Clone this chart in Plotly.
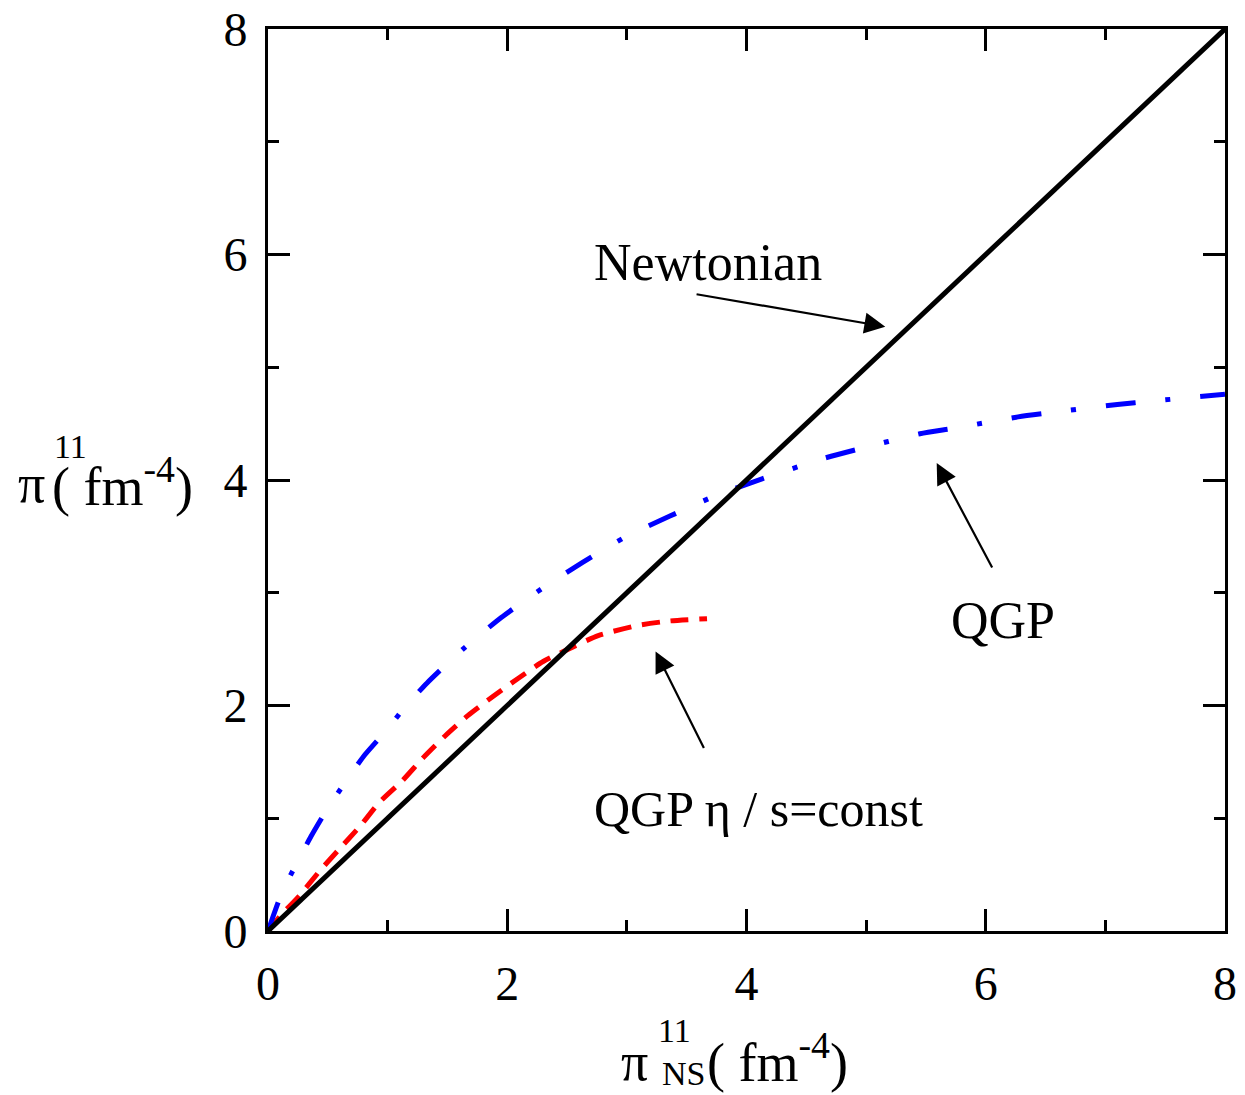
import plotly.graph_objects as go

# Data
newton_x = [0, 8]
newton_y = [0, 8]

qgp_x = [0, 0.12, 0.23, 0.36, 0.50, 0.64, 0.80, 0.99, 1.14, 1.33, 1.63, 1.95, 2.28, 2.63, 2.98, 3.36, 3.74, 4.13, 4.64, 4.92, 5.45, 5.74, 6.27, 6.56, 7.10, 7.39, 8.0]
qgp_y = [0, 0.35, 0.58, 0.84, 1.09, 1.31, 1.55, 1.78, 1.98, 2.20, 2.50, 2.78, 3.03, 3.27, 3.49, 3.68, 3.86, 4.01, 4.19, 4.27, 4.41, 4.46, 4.56, 4.60, 4.67, 4.70, 4.76]

qgp_const_x = [0, 0.10, 0.26, 0.43, 0.59, 0.77, 0.93, 1.12, 1.30, 1.48, 1.67, 1.88, 2.09, 2.30, 2.55, 2.76, 3.09, 3.36, 3.67]
qgp_const_y = [0, 0.13, 0.31, 0.53, 0.72, 0.93, 1.14, 1.33, 1.54, 1.73, 1.91, 2.08, 2.24, 2.39, 2.52, 2.62, 2.71, 2.75, 2.77]

major_ticks = [0, 2, 4, 6, 8]
minor_ticks = [1, 3, 5, 7]

SERIF = "Liberation Serif, Times New Roman, serif"

fig = go.Figure()
fig.add_trace(go.Scatter(x=qgp_const_x, y=qgp_const_y, mode="lines",
                         line=dict(color="#ff0000", width=5, dash="18px,11px", shape="spline", smoothing=0.6),
                         showlegend=False))
fig.add_trace(go.Scatter(x=qgp_x, y=qgp_y, mode="lines",
                         line=dict(color="#0000ff", width=5, dash="30px,30px,5px,30px", shape="spline", smoothing=0.6),
                         showlegend=False))
fig.add_trace(go.Scatter(x=newton_x, y=newton_y, mode="lines",
                         line=dict(color="black", width=5), showlegend=False))

axis_common = dict(range=[0, 8], showgrid=False, zeroline=False, showline=True,
                   linecolor="black", linewidth=3, mirror="allticks",
                   ticks="inside", ticklen=22, tickwidth=3, tickcolor="black",
                   tickvals=major_ticks, ticktext=[str(v) for v in major_ticks],
                   tickfont=dict(family=SERIF, size=48, color="black"),
                   automargin=False,
                   minor=dict(tickvals=minor_ticks, ticks="inside", ticklen=11, tickwidth=3, tickcolor="black"))

fig.update_layout(
    width=1245, height=1095,
    margin=dict(l=268, r=20, t=29, b=164),
    plot_bgcolor="white", paper_bgcolor="white",
    xaxis=dict(**axis_common, ticklabelstandoff=8),
    yaxis=dict(**axis_common, ticklabelstandoff=8),
)

annots = []
def txt(x, y, s, size=52, xref="x", yref="y", xanchor="center", yanchor="middle"):
    annots.append(dict(x=x, y=y, xref=xref, yref=yref, text=s, showarrow=False,
                       font=dict(family=SERIF, size=size, color="black"),
                       xanchor=xanchor, yanchor=yanchor))

def arrow(x0, y0, x1, y1):
    annots.append(dict(x=x1, y=y1, ax=x0, ay=y0, xref="x", yref="y", axref="x", ayref="y",
                       text="", showarrow=True, arrowhead=2, arrowsize=1.9, arrowwidth=2.2,
                       arrowcolor="black"))

txt(3.68, 5.93, "Newtonian", size=52)
arrow(3.57, 5.65, 5.16, 5.36)
txt(6.14, 2.75, "QGP", size=52)
arrow(6.06, 3.21, 5.59, 4.15)
txt(4.1, 1.08, "QGP η / s=const", size=50)
arrow(3.65, 1.61, 3.24, 2.48)

# axis titles placed from pixel positions relative to the plot area
pl, pr, pt, pb = 268, 1225, 29, 931
def ppx(p):
    return (p - pl) / (pr - pl)
def ppy(p):
    return (pb - p) / (pb - pt)

# x title
txt(ppx(634), ppy(1062), "π", size=54, xref="paper", yref="paper")
txt(ppx(674), ppy(1030), "11", size=34, xref="paper", yref="paper")
txt(ppx(683), ppy(1073), "NS", size=34, xref="paper", yref="paper")
txt(ppx(705), ppy(1058), "( fm<sup>-4</sup>)", size=54, xref="paper", yref="paper", xanchor="left")
# y title
txt(ppx(31), ppy(484), "π", size=54, xref="paper", yref="paper")
txt(ppx(70), ppy(446), "11", size=34, xref="paper", yref="paper")
txt(ppx(50), ppy(482), "( fm<sup>-4</sup>)", size=54, xref="paper", yref="paper", xanchor="left")

fig.update_layout(annotations=annots)
fig.write_html("out.html")
